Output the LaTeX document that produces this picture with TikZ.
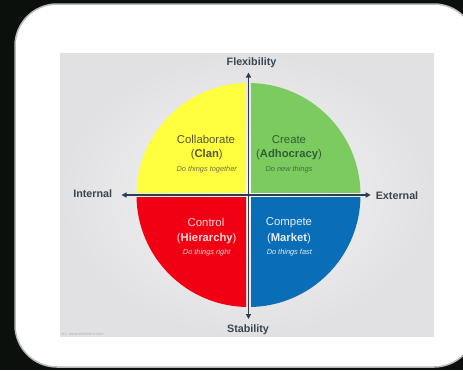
\documentclass[tikz,border=0pt]{standalone}
\usepackage{fontspec}
\setmainfont{Liberation Sans}
\usetikzlibrary{arrows.meta}
\definecolor{bgblack}{HTML}{0B100D}
\definecolor{panelin}{HTML}{F5F5F6}
\definecolor{panelout}{HTML}{E1E1E3}
\definecolor{qyellow}{HTML}{FFFF40}
\definecolor{qgreen}{HTML}{7CCB5E}
\definecolor{qred}{HTML}{F00012}
\definecolor{qblue}{HTML}{0A6DB8}
\definecolor{axiscol}{HTML}{2E3D4B}
\definecolor{labcol}{HTML}{3A4550}
\definecolor{ytext}{HTML}{55552E}
\definecolor{yital}{HTML}{707045}
\definecolor{gtext}{HTML}{2F5F35}
\definecolor{gital}{HTML}{3E7040}
\definecolor{rtext}{HTML}{FFD8D8}
\definecolor{btext}{HTML}{E6EFFA}
\tikzset{
  lab/.style={font=\fontsize{10.8pt}{12pt}\selectfont\bfseries, text=labcol, inner sep=0pt},
  qtitle/.style={font=\fontsize{11.4pt}{13pt}\selectfont, inner sep=0pt},
  qname/.style={font=\fontsize{11.3pt}{13pt}\selectfont, inner sep=0pt},
  qital/.style={font=\fontsize{7.4pt}{9pt}\selectfont\itshape, inner sep=0pt},
  axis/.style={draw=axiscol, line width=1.6bp, {Triangle[length=5bp,width=5bp]}-{Triangle[length=5bp,width=5bp]}},
}
\begin{document}
\begin{tikzpicture}[x=1bp,y=-1bp]
\useasboundingbox (0,0) rectangle (463,370);
\fill[bgblack] (0,0) rectangle (463,370);
\fill[white, draw=gray!55, line width=1.5bp, rounded corners=42bp] (15,4) rectangle (476,367);
% panel
\fill[inner color=panelin, outer color=panelout] (60,53) rectangle (434,336);
\coordinate (c) at (248.5,195);
\begin{scope}\clip (100,60) rectangle (246,192.3); \fill[qyellow] (c) circle[radius=112]; \end{scope}
\begin{scope}\clip (251,60) rectangle (400,192.3); \fill[qgreen] (c) circle[radius=112]; \end{scope}
\begin{scope}\clip (100,197.7) rectangle (246,330); \fill[qred] (c) circle[radius=112]; \end{scope}
\begin{scope}\clip (251,197.7) rectangle (400,330); \fill[qblue] (c) circle[radius=112]; \end{scope}
% axis labels
\node[lab] (flex) at (251.5,63) {Flexibility};
\node[lab] (stab) at (248,330) {Stability};
\node[lab] (int) at (92.7,194) {Internal};
\node[lab] (ext) at (397,195.5) {External};
\coordinate (top) at (248.5,72.5);
\coordinate (bot) at (248.5,319);
\coordinate (lft) at (121.5,195);
\coordinate (rgt) at (370.7,195);
\draw[axis] (bot) -- (top);
\draw[axis] (lft) -- (rgt);
% quadrant texts
\node[qtitle, text=ytext] (q1a) at (206,139.5) {Collaborate};
\node[qname, text=ytext] (q1b) at (206.7,155) {(\textbf{Clan})};
\node[qital, text=yital] (q1c) at (206.7,169.5) {Do things together};
\node[qtitle, text=gtext] (q2a) at (289,139.5) {Create};
\node[qname, text=gtext] (q2b) at (289,155) {(\textbf{Adhocracy})};
\node[qital, text=gital] (q2c) at (289,169.5) {Do new things};
\node[qtitle, text=rtext] (q3a) at (206,222.5) {Control};
\node[qname, text=rtext] (q3b) at (206.7,238.3) {(\textbf{Hierarchy})};
\node[qital, text=rtext] (q3c) at (206.7,252.5) {Do things right};
\node[qtitle, text=btext] (q4a) at (289,222.5) {Compete};
\node[qname, text=btext] (q4b) at (289,238.3) {(\textbf{Market})};
\node[qital, text=btext] (q4c) at (289.3,252.5) {Do things fast};
\node[font=\fontsize{4pt}{5pt}\selectfont, text=gray!60, anchor=west, inner sep=0pt] (src) at (61,334) {src: www.toolshero.com};
\end{tikzpicture}
\end{document}
